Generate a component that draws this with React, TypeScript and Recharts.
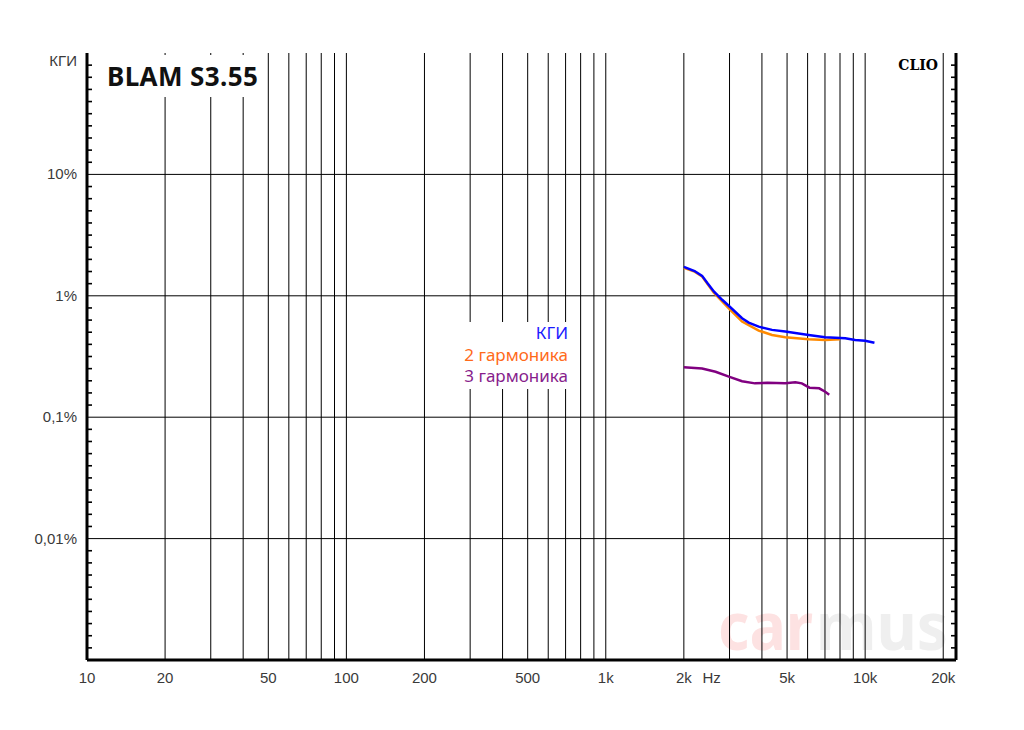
import React from 'react';
import { LineChart, Line, XAxis, YAxis, CartesianGrid } from 'recharts';

// КГИ, % vs Hz
const thdData = [
  { f: 2000, v: 1.73 }, { f: 2200, v: 1.6 }, { f: 2352, v: 1.46 }, { f: 2460, v: 1.28 },
  { f: 2610, v: 1.085 }, { f: 2810, v: 0.927 }, { f: 3000, v: 0.816 }, { f: 3353, v: 0.654 },
  { f: 3556, v: 0.602 }, { f: 3887, v: 0.557 }, { f: 4375, v: 0.524 }, { f: 4920, v: 0.507 },
  { f: 6053, v: 0.476 }, { f: 7015, v: 0.456 }, { f: 8380, v: 0.447 }, { f: 9150, v: 0.433 },
  { f: 10000, v: 0.427 }, { f: 10860, v: 0.411 },
];

const h2Data = [
  { f: 2000, v: 1.7 }, { f: 2200, v: 1.58 }, { f: 2352, v: 1.44 }, { f: 2610, v: 1.06 },
  { f: 3000, v: 0.776 }, { f: 3353, v: 0.613 }, { f: 3887, v: 0.517 }, { f: 4375, v: 0.476 },
  { f: 4920, v: 0.456 }, { f: 6053, v: 0.439 }, { f: 7015, v: 0.433 }, { f: 8000, v: 0.439 },
];

const h3Data = [
  { f: 2000, v: 0.2575 }, { f: 2352, v: 0.252 }, { f: 2650, v: 0.237 }, { f: 3000, v: 0.215 },
  { f: 3353, v: 0.198 }, { f: 3760, v: 0.19 }, { f: 4200, v: 0.192 }, { f: 4920, v: 0.19 },
  { f: 5380, v: 0.194 }, { f: 5700, v: 0.19 }, { f: 6100, v: 0.175 }, { f: 6650, v: 0.173 },
  { f: 7015, v: 0.162 }, { f: 7270, v: 0.153 },
];

const xTickValues = [10, 20, 50, 100, 200, 500, 1000, 2000, 2560, 5000, 10000, 20000];
const xTickLabels = ['10', '20', '50', '100', '200', '500', '1k', '2k', 'Hz', '5k', '10k', '20k'];
const yTickValues = [0.01, 0.1, 1, 10, 100];
const yTickLabels = ['0,01%', '0,1%', '1%', '10%', 'КГИ'];
const xGridValues = [
  20, 30, 40, 50, 60, 70, 80, 90, 100, 200, 300, 400, 500, 600, 700, 800, 900,
  1000, 2000, 3000, 4000, 5000, 6000, 7000, 8000, 9000, 10000, 20000,
];
const yGridValues = [0.01, 0.1, 1, 10];
const decades = [0.001, 0.01, 0.1, 1, 10];
const minorSteps = [1, 2, 3, 4, 5, 6, 7, 8, 9];
const minorTicks = decades.flatMap((d) => minorSteps.map((j) => d * Math.pow(10, j / 10)));

const legendItems = [
  { label: 'КГИ', color: '#1a1aff' },
  { label: '2 гармоника', color: '#ff6a1a' },
  { label: '3 гармоника', color: '#871d8c' },
];

const xDomain = [10, 22400];
const yDomain = [0.001, 100];

const tickFont = '"Liberation Sans", Arial, sans-serif';
const titleFont = '"Noto Sans", sans-serif';

const XTick = (props: any) => {
  const { x, y, payload } = props;
  const i = xTickValues.indexOf(payload.value);
  return (
    <text x={x} y={y + 23} textAnchor="middle" fontSize={15} fill="#3a3a3a" fontFamily={tickFont}>
      {xTickLabels[i]}
    </text>
  );
};

const YTick = (props: any) => {
  const { x, y, payload } = props;
  const i = yTickValues.indexOf(payload.value);
  const dy = payload.value === 100 ? 13 : 5;
  return (
    <text x={x} y={y + dy} textAnchor="end" fontSize={15} fill="#3a3a3a" fontFamily={tickFont}>
      {yTickLabels[i]}
    </text>
  );
};

// minor tick marks drawn inside the frame
const MinorTick = (props: any) => {
  const { y, side } = props;
  const x0 = side === 'left' ? 87 : 956;
  const x1 = side === 'left' ? 92 : 951;
  return <line x1={x0} x2={x1} y1={y} y2={y} stroke="#000" strokeWidth={1.6} />;
};

export default function App() {
  return (
    <div style={{ position: 'absolute', left: 0, top: 0, width: 1024, height: 730, background: '#fff' }}>
      <svg width={1024} height={730} style={{ position: 'absolute', left: 0, top: 0 }}>
        <g fontSize={66} fontWeight={700} fontFamily={titleFont}>
          <text x={718} y={650} fill="#fde2e2" textLength={95} lengthAdjust="spacingAndGlyphs">car</text>
          <text x={816} y={650} fill="#efefef" textLength={132} lengthAdjust="spacingAndGlyphs">mus</text>
        </g>
      </svg>
      <div style={{ position: 'absolute', left: 0, top: 0 }}>
        <LineChart width={1024} height={730} margin={{ top: 53, right: 68, bottom: 0, left: 0 }}>
          <CartesianGrid
            stroke="#000"
            strokeWidth={1}
            verticalValues={xGridValues}
            horizontalValues={yGridValues}
          />
          <XAxis
            dataKey="f"
            type="number"
            scale="log"
            domain={xDomain}
            allowDataOverflow
            ticks={xTickValues}
            interval={0}
            height={70}
            tickSize={0}
            tickMargin={0}
            tickLine={false}
            axisLine={{ stroke: '#000', strokeWidth: 3 }}
            tick={<XTick />}
          />
          <XAxis
            xAxisId="top"
            orientation="top"
            type="number"
            scale="log"
            domain={xDomain}
            allowDataOverflow
            height={0}
            tick={false}
            tickLine={false}
            axisLine={{ stroke: '#000', strokeWidth: 3 }}
          />
          <YAxis
            type="number"
            scale="log"
            domain={yDomain}
            allowDataOverflow
            ticks={yTickValues}
            interval={0}
            width={87}
            tickSize={0}
            tickMargin={10}
            tickLine={false}
            axisLine={{ stroke: '#000', strokeWidth: 3 }}
            tick={<YTick />}
          />
          <YAxis
            yAxisId="ml"
            orientation="left"
            mirror
            type="number"
            scale="log"
            domain={yDomain}
            allowDataOverflow
            ticks={minorTicks}
            interval={0}
            width={10}
            tickSize={0}
            tickLine={false}
            axisLine={false}
            tick={<MinorTick side="left" />}
          />
          <YAxis
            yAxisId="mr"
            orientation="right"
            mirror
            type="number"
            scale="log"
            domain={yDomain}
            allowDataOverflow
            ticks={minorTicks}
            interval={0}
            width={10}
            tickSize={0}
            tickLine={false}
            axisLine={{ stroke: '#000', strokeWidth: 3 }}
            tick={<MinorTick side="right" />}
          />
          <Line data={h2Data} dataKey="v" stroke="#ff8a00" strokeWidth={2.5} dot={false} isAnimationActive={false} />
          <Line data={thdData} dataKey="v" stroke="#0000ff" strokeWidth={2.5} dot={false} isAnimationActive={false} />
          <Line data={h3Data} dataKey="v" stroke="#800080" strokeWidth={2.5} dot={false} isAnimationActive={false} />
        </LineChart>
      </div>
      <div
        style={{
          position: 'absolute', left: 100, top: 55, width: 162, height: 42, background: '#fff',
          fontFamily: titleFont, fontWeight: 700, fontSize: 26, color: '#111', letterSpacing: 0.4,
          lineHeight: '42px', paddingLeft: 7, boxSizing: 'border-box', whiteSpace: 'nowrap',
        }}
      >
        BLAM S3.55
      </div>
      <div
        style={{
          position: 'absolute', left: 430, top: 322, width: 140, height: 67, background: '#fff',
          fontFamily: titleFont, fontSize: 17, textAlign: 'right',
          paddingRight: 2, boxSizing: 'border-box', whiteSpace: 'nowrap',
        }}
      >
        {legendItems.map((it) => (
          <div key={it.label} style={{ color: it.color, height: 21.5, lineHeight: '21.5px', overflow: 'hidden' }}>
            {it.label}
          </div>
        ))}
      </div>
      <div
        style={{
          position: 'absolute', right: 1024 - 938, top: 57, fontFamily: '"DejaVu Serif", serif',
          fontWeight: 700, fontSize: 14, color: '#000', lineHeight: '16px',
        }}
      >
        CLIO
      </div>
    </div>
  );
}
